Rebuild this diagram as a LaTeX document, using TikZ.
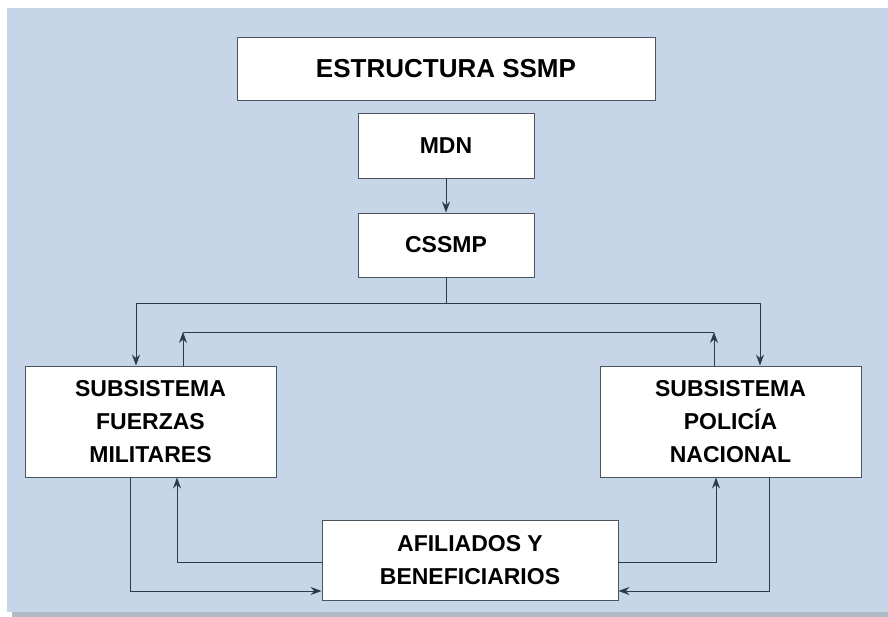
\documentclass[tikz,border=0pt]{standalone}
\usepackage{fontspec}
\setmainfont{Liberation Sans}
\usetikzlibrary{arrows.meta,calc,positioning}
\definecolor{bgblue}{HTML}{C6D5E7}
\definecolor{linecol}{HTML}{2B3A4C}
\definecolor{boxline}{HTML}{4A5560}

\begin{document}
\begin{tikzpicture}[x=1pt, y=-1pt, >={Stealth[length=11pt,width=8pt]},
  box/.style={draw=boxline, line width=0.9pt, fill=white, align=center, inner sep=0pt,
    font=\bfseries\fontsize{23}{33}\selectfont},
  link/.style={draw=linecol, line width=0.9pt}]
  \useasboundingbox (0,0) rectangle (888,617);
  \fill[white] (0,0) rectangle (888,617);
  \fill[bgblue] (7,8) rectangle (888,612);
  \fill[bgblue!70!gray] (12,612) rectangle (888,617);
  % boxes
  \node[box, minimum width=418pt, minimum height=63pt, font=\bfseries\fontsize{26}{30}\selectfont] (ssmp) at (446,68.5) {ESTRUCTURA SSMP};
  \node[box, minimum width=176pt, minimum height=65pt] (mdn) at (446,145.5) {MDN};
  \node[box, minimum width=176pt, minimum height=64pt] (cssmp) at (446,245) {CSSMP};
  \node[box, minimum width=251pt, minimum height=111pt] (fm) at (150.5,421.5) {SUBSISTEMA\\FUERZAS\\MILITARES};
  \node[box, minimum width=261pt, minimum height=111pt] (pn) at (730.5,421.5) {SUBSISTEMA\\POLICÍA\\NACIONAL};
  \node[box, minimum width=296pt, minimum height=80pt] (afil) at (470,560) {AFILIADOS Y\\BENEFICIARIOS};
  % top chain
  \draw[link,->] (mdn) -- (cssmp);
  \coordinate (fmdown) at (136,303);
  \coordinate (pndown) at (760,303);
  \draw[link] (cssmp.south) -- (cssmp.south |- fmdown);
  \draw[link] (fmdown) -- (pndown);
  \draw[link,->] (fmdown) -- (fmdown |- fm.north);
  \draw[link,->] (pndown) -- (pndown |- pn.north);
  % feedback up
  \coordinate (fmup) at (183,332);
  \coordinate (pnup) at (714,332);
  \draw[link] (fmup) -- (pnup);
  \draw[link,->] (fmup |- fm.north) -- (fmup);
  \draw[link,->] (pnup |- pn.north) -- (pnup);
  % loops with afiliados
  \coordinate (fmout) at (130,591);
  \coordinate (fmin) at (177,562);
  \coordinate (pnin) at (716,562);
  \coordinate (pnout) at (769,591);
  \draw[link,->] (fmout |- fm.south) -- (fmout) -- (fmout -| afil.west);
  \draw[link,->] (fmin -| afil.west) -- (fmin) -- (fmin |- fm.south);
  \draw[link,->] (pnin -| afil.east) -- (pnin) -- (pnin |- pn.south);
  \draw[link,->] (pnout |- pn.south) -- (pnout) -- (pnout -| afil.east);
\end{tikzpicture}
\end{document}
